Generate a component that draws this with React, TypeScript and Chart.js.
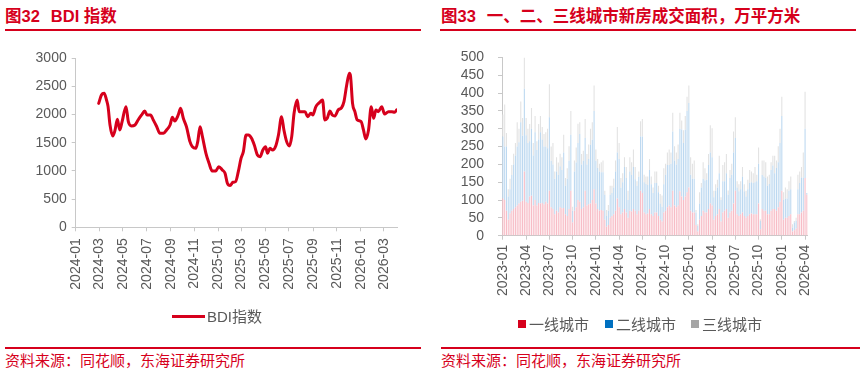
import React, { useEffect, useRef } from 'react';
import { Chart, registerables } from 'chart.js';

Chart.register(...registerables);

const FONT = '"Liberation Sans", "Noto Sans CJK SC", sans-serif';
const RED = '#D6001C';
const AXIS = '#C8C8C8';
const TICK = '#595959';

// ---------- BDI index (left) ----------
const bdiTickLabels = ['2024-01', '2024-03', '2024-05', '2024-07', '2024-09', '2024-11', '2025-01', '2025-03', '2025-05', '2025-07', '2025-09', '2025-11', '2026-01', '2026-03'];
const bdiAxisEnd = '2026-04-04';
const bdiDates = [
  '2024-02-29', '2024-03-07', '2024-03-14', '2024-03-20', '2024-03-24', '2024-03-29', '2024-04-05', '2024-04-11', '2024-04-17', '2024-04-23',
  '2024-04-29', '2024-05-09', '2024-05-15', '2024-05-23', '2024-06-01', '2024-06-09', '2024-06-18', '2024-06-26', '2024-07-02', '2024-07-11',
  '2024-07-18', '2024-07-26', '2024-08-04', '2024-08-13', '2024-08-21', '2024-08-30', '2024-09-05', '2024-09-11', '2024-09-20', '2024-09-26',
  '2024-10-03', '2024-10-11', '2024-10-20', '2024-10-26', '2024-11-04', '2024-11-09', '2024-11-15', '2024-11-21', '2024-11-30', '2024-12-08',
  '2024-12-16', '2024-12-25', '2025-01-02', '2025-01-11', '2025-01-18', '2025-01-24', '2025-01-31', '2025-02-07', '2025-02-14', '2025-02-21',
  '2025-02-28', '2025-03-06', '2025-03-13', '2025-03-19', '2025-03-27', '2025-04-03', '2025-04-11', '2025-04-18', '2025-04-25', '2025-05-02',
  '2025-05-07', '2025-05-13', '2025-05-20', '2025-05-28', '2025-06-04', '2025-06-12', '2025-06-18', '2025-06-25', '2025-07-02', '2025-07-08',
  '2025-07-14', '2025-07-22', '2025-07-27', '2025-08-02', '2025-08-11', '2025-08-18', '2025-08-26', '2025-08-31', '2025-09-08', '2025-09-17',
  '2025-09-25', '2025-10-01', '2025-10-07', '2025-10-14', '2025-10-20', '2025-10-27', '2025-11-04', '2025-11-13', '2025-11-19', '2025-11-26',
  '2025-12-03', '2025-12-06', '2025-12-11', '2025-12-17', '2025-12-23', '2026-01-02', '2026-01-08', '2026-01-14', '2026-01-21', '2026-01-28',
  '2026-02-03', '2026-02-09', '2026-02-15', '2026-02-24', '2026-03-03', '2026-03-13', '2026-03-22', '2026-03-29', '2026-04-03',
];
const bdiValues = [
  2200, 2349, 2379, 2260, 2142, 1816, 1621, 1728, 1917, 1728,
  1876, 2142, 1876, 1799, 1816, 1905, 1994, 2065, 1994, 1994,
  1905, 1799, 1669, 1669, 1728, 1816, 1953, 1888, 1994, 2112,
  1935, 1787, 1521, 1432, 1402, 1521, 1787, 1609, 1314, 1136,
  1000, 1000, 1077, 1018, 959, 781, 740, 799, 811, 988,
  1225, 1343, 1639, 1639, 1580, 1461, 1284, 1254, 1373, 1432,
  1314, 1402, 1373, 1444, 1639, 1964, 1728, 1521, 1444, 1609,
  2024, 2260, 2053, 2053, 2053, 1964, 2024, 1994, 2142, 2213,
  2260, 1905, 1935, 2065, 1994, 1976, 2083, 2124, 2231, 2527,
  2734, 2675, 2201, 2053, 1905, 1876, 1728, 1568, 1728, 2142,
  1935, 2083, 2053, 2142, 2012, 2053, 2053, 2041, 2083,
];

// ---------- New-home transaction area (right) ----------
const weekStart = '2023-01-06';
const weekCount = 171;
const quarterTickMonths = [1, 4, 7, 10];
const tier1 = [
  104, 100, 70, 45, 63, 70, 75, 80, 85, 90,
  95, 98, 180, 95, 92, 110, 112, 85, 100, 85,
  92, 90, 92, 88, 95, 90, 126, 80, 75, 60,
  70, 65, 80, 77, 78, 60, 55, 75, 126, 37,
  70, 80, 100, 95, 75, 80, 126, 85, 88, 90,
  100, 130, 90, 75, 70, 72, 70, 45, 25, 30,
  50, 55, 60, 70, 104, 80, 60, 65, 75, 65,
  50, 70, 68, 75, 70, 60, 70, 126, 120, 65,
  60, 62, 75, 60, 55, 65, 65, 55, 45, 40,
  65, 70, 80, 85, 80, 126, 85, 80, 85, 125,
  110, 100, 110, 122, 135, 70, 65, 65, 30, 12,
  45, 55, 70, 65, 65, 75, 90, 85, 45, 55,
  60, 75, 40, 65, 70, 75, 50, 65, 70, 90,
  126, 60, 55, 60, 65, 55, 50, 55, 60, 62,
  60, 60, 60, 90, 18, 75, 70, 70, 60, 60,
  70, 75, 75, 70, 80, 95, 126, 45, 50, 50,
  55, 60, 12, 15, 20, 60, 60, 65, 70, 162,
  115,
];
const tier2 = [
  174, 150, 180, 65, 67, 100, 125, 145, 165, 172,
  223, 182, 232, 187, 168, 155, 188, 140, 190, 155,
  178, 200, 178, 162, 155, 155, 206, 130, 125, 100,
  110, 105, 115, 107, 155, 80, 105, 135, 157, 33,
  110, 125, 160, 190, 125, 130, 148, 115, 127, 165,
  169, 220, 120, 115, 110, 106, 108, 70, 30, 40,
  65, 65, 75, 110, 129, 135, 75, 85, 118, 97,
  50, 110, 102, 118, 88, 80, 95, 152, 158, 85,
  85, 80, 109, 84, 65, 83, 83, 67, 45, 41,
  79, 101, 118, 113, 122, 166, 126, 120, 130, 175,
  188, 160, 187, 228, 237, 101, 95, 95, 35, 16,
  45, 80, 90, 90, 92, 123, 143, 135, 63, 71,
  75, 100, 60, 88, 83, 100, 65, 97, 101, 143,
  148, 75, 70, 70, 100, 70, 60, 75, 88, 88,
  88, 90, 93, 112, 23, 95, 96, 92, 80, 85,
  114, 122, 100, 120, 126, 165, 210, 55, 54, 54,
  71, 70, 11, 22, 22, 70, 88, 98, 93, 138,
  5,
];
const tier3 = [
  62, 118, 38, 20, 30, 28, 30, 35, 68, 38,
  58, 50, 88, 48, 40, 48, 58, 35, 46, 25,
  43, 46, 35, 35, 40, 55, 93, 40, 60, 20,
  40, 35, 35, 36, 50, 22, 29, 41, 67, 11,
  31, 42, 54, 33, 29, 28, 53, 29, 41, 45,
  49, 71, 32, 25, 22, 28, 33, 11, 17, 16,
  25, 20, 25, 31, 72, 45, 27, 25, 27, 31,
  26, 40, 36, 49, 35, 13, 15, 43, 49, 21,
  21, 24, 31, 22, 15, 32, 32, 18, 27, 32,
  45, 31, 35, 44, 31, 53, 40, 33, 41, 45,
  25, 36, 39, 40, 49, 49, 42, 51, 7, 4,
  32, 13, 46, 34, 18, 31, 77, 81, 18, 18,
  22, 49, 8, 45, 53, 54, 12, 22, 31, 59,
  58, 18, 19, 23, 28, 19, 16, 27, 36, 30,
  27, 43, 18, 45, 5, 41, 45, 44, 26, 26,
  22, 27, 49, 21, 45, 40, 54, 22, 31, 26,
  27, 36, 9, 4, 8, 41, 32, 30, 70, 104,
  0,
];
const seriesNames = ['一线城市', '二线城市', '三线城市'];
const legendColors = ['#D6001C', '#0070C0', '#A5A5A5'];
const barColors = ['rgb(247,188,198)', 'rgb(188,216,240)', 'rgb(226,226,226)'];

const DAY0 = Date.UTC(2024, 0, 1);
const toDay = (s: string) => (Date.parse(s + 'T00:00:00Z') - DAY0) / 86400000;

function buildWeekLabels(): string[] {
  const out: string[] = [];
  const t0 = Date.parse(weekStart + 'T00:00:00Z');
  for (let i = 0; i < weekCount; i++) {
    out.push(new Date(t0 + i * 7 * 86400000).toISOString().slice(0, 10));
  }
  return out;
}
const weekLabels = buildWeekLabels();

const tickFont = { family: FONT, size: 14 };

function BdiChart() {
  const ref = useRef<HTMLCanvasElement>(null);
  useEffect(() => {
    const tickMap = new Map<number, string>();
    bdiTickLabels.forEach((l) => tickMap.set(toDay(l + '-01'), l));
    const chart = new Chart(ref.current!, {
      type: 'line',
      data: {
        datasets: [
          {
            label: 'BDI指数',
            data: bdiDates.map((d, i) => ({ x: toDay(d), y: bdiValues[i] })),
            borderColor: RED,
            backgroundColor: RED,
            borderWidth: 3,
            pointRadius: 0,
            cubicInterpolationMode: 'monotone',
            borderJoinStyle: 'round',
            borderCapStyle: 'round',
            fill: false,
          },
        ],
      },
      options: {
        animation: false,
        responsive: false,
        maintainAspectRatio: false,
        devicePixelRatio: 1,
        layout: { padding: { left: 0, right: 33, top: 23.3, bottom: 0 } },
        plugins: { legend: { display: false }, tooltip: { enabled: false } },
        scales: {
          x: {
            type: 'linear',
            min: 0,
            max: toDay(bdiAxisEnd),
            afterBuildTicks: (s: any) => {
              s.ticks = bdiTickLabels.map((l) => ({ value: toDay(l + '-01') }));
            },
            afterFit: (s: any) => {
              s.height = 107.7;
            },
            grid: { drawOnChartArea: false, drawTicks: true, tickLength: 4, color: AXIS },
            border: { color: AXIS, width: 1 },
            ticks: {
              autoSkip: false,
              minRotation: 90,
              maxRotation: 90,
              padding: 7,
              color: TICK,
              font: tickFont,
              callback: (v: any) => tickMap.get(Number(v)) ?? '',
            },
          },
          y: {
            min: 0,
            max: 3000,
            afterFit: (s: any) => {
              s.width = 75.7;
            },
            grid: { drawOnChartArea: false, drawTicks: true, tickLength: 4, color: AXIS },
            border: { color: AXIS, width: 1 },
            ticks: {
              stepSize: 500,
              autoSkip: false,
              padding: 5,
              color: TICK,
              font: tickFont,
              callback: (v: any) => String(v),
            },
          },
        },
      },
    } as any);
    return () => chart.destroy();
  }, []);
  return <canvas ref={ref} width={430} height={300} style={{ position: 'absolute', left: 0, top: 35, width: 430, height: 300 }} />;
}

function AreaChart() {
  const ref = useRef<HTMLCanvasElement>(null);
  useEffect(() => {
    const tickIdx: number[] = [];
    weekLabels.forEach((l, i) => {
      const m = Number(l.slice(5, 7));
      const d = Number(l.slice(8, 10));
      if (quarterTickMonths.includes(m) && d <= 7) tickIdx.push(i);
    });
    const series = [tier1, tier2, tier3];
    const chart = new Chart(ref.current!, {
      type: 'bar',
      data: {
        labels: weekLabels,
        datasets: series.map((s, k) => ({
          label: seriesNames[k],
          data: s,
          backgroundColor: barColors[k],
          borderWidth: 0,
          barPercentage: 0.6,
          categoryPercentage: 1,
        })),
      },
      options: {
        animation: false,
        responsive: false,
        maintainAspectRatio: false,
        devicePixelRatio: 1,
        layout: { padding: { left: 0, right: 57.25, top: 14.3, bottom: 0 } },
        plugins: { legend: { display: false }, tooltip: { enabled: false } },
        scales: {
          x: {
            stacked: true,
            afterBuildTicks: (s: any) => {
              s.ticks = tickIdx.map((i) => ({ value: i }));
            },
            afterFit: (s: any) => {
              s.height = 99.3;
            },
            grid: { drawOnChartArea: false, drawTicks: true, tickLength: 4, color: AXIS, offset: false },
            border: { color: AXIS, width: 1 },
            ticks: {
              autoSkip: false,
              minRotation: 90,
              maxRotation: 90,
              padding: 5,
              color: TICK,
              font: tickFont,
              callback: (v: any) => weekLabels[Number(v)].slice(0, 7),
            },
          },
          y: {
            stacked: true,
            min: 0,
            max: 500,
            afterFit: (s: any) => {
              s.width = 70;
            },
            grid: { drawOnChartArea: false, drawTicks: true, tickLength: 4, color: AXIS },
            border: { color: AXIS, width: 1 },
            ticks: {
              stepSize: 50,
              autoSkip: false,
              padding: 14,
              color: TICK,
              font: tickFont,
              callback: (v: any) => String(v),
            },
          },
        },
      },
    } as any);
    return () => chart.destroy();
  }, []);
  return <canvas ref={ref} width={433} height={300} style={{ position: 'absolute', left: 432, top: 35, width: 433, height: 300 }} />;
}

const abs = (s: React.CSSProperties): React.CSSProperties => ({ position: 'absolute', ...s });

export default function App() {
  const titleStyle: React.CSSProperties = {
    fontFamily: FONT,
    fontWeight: 'bold',
    fontSize: 16.5,
    lineHeight: '17px',
    color: RED,
    whiteSpace: 'nowrap',
  };
  const srcStyle: React.CSSProperties = {
    fontFamily: FONT,
    fontSize: 15,
    lineHeight: '15px',
    color: RED,
    whiteSpace: 'nowrap',
  };
  const legStyle: React.CSSProperties = {
    fontFamily: FONT,
    fontSize: 15,
    lineHeight: '15px',
    color: TICK,
    whiteSpace: 'nowrap',
  };
  const legendX = [518, 605, 691];
  return (
    <div style={{ position: 'absolute', left: 0, top: 0, width: 865, height: 381, background: '#fff', overflow: 'hidden' }}>
      <div style={abs({ left: 5, top: 8, ...titleStyle })}>
        <span>图32</span>
        <span style={{ marginLeft: 11 }}>BDI 指数</span>
      </div>
      <div style={abs({ left: 441, top: 8, ...titleStyle })}>
        <span>图33</span>
        <span style={{ marginLeft: 11 }}>一、二、三线城市新房成交面积，万平方米</span>
      </div>
      <div style={abs({ left: 5, top: 29, width: 416, height: 2, background: RED })} />
      <div style={abs({ left: 440, top: 29, width: 416, height: 2, background: RED })} />

      <BdiChart />
      <AreaChart />

      <div style={abs({ left: 172, top: 314.5, width: 33, height: 3, background: RED })} />
      <div style={abs({ left: 207, top: 308.5, ...legStyle })}>BDI指数</div>

      {seriesNames.map((n, k) => (
        <React.Fragment key={n}>
          <div style={abs({ left: legendX[k], top: 320, width: 8, height: 8, background: legendColors[k] })} />
          <div style={abs({ left: legendX[k] + 11, top: 316.5, ...legStyle })}>{n}</div>
        </React.Fragment>
      ))}

      <div style={abs({ left: 5, top: 347, width: 416, height: 2, background: RED })} />
      <div style={abs({ left: 441, top: 347, width: 419, height: 2, background: RED })} />
      <div style={abs({ left: 5, top: 353, ...srcStyle })}>资料来源：同花顺，东海证券研究所</div>
      <div style={abs({ left: 441, top: 353, ...srcStyle })}>资料来源：同花顺，东海证券研究所</div>
    </div>
  );
}
